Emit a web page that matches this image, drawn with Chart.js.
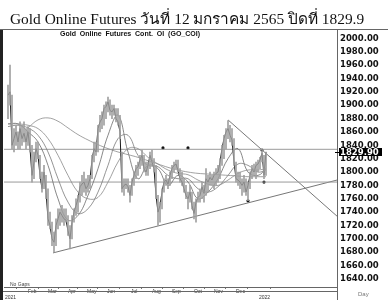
<!DOCTYPE html>
<html>
<head>
<meta charset="utf-8">
<script src="https://cdn.jsdelivr.net/npm/chart.js@4.4.1/dist/chart.umd.min.js"></script>
<style>
  html, body { margin: 0; padding: 0; background: #fff; }
  #wrap { position: relative; width: 388px; height: 300px; overflow: hidden; }
  #title {
    position: absolute; left: 10px; top: 6px;
    font: 15.4px "Liberation Serif", "Times New Roman", serif;
    color: #111; white-space: nowrap;
  }
  canvas { position: absolute; left: 0; top: 0; }
</style>
</head>
<body>
<div id="wrap">
  <canvas id="chart" width="388" height="300"></canvas>
  <div id="title">Gold Online Futures วันที่ 12 มกราคม 2565 ปิดที่ 1829.9</div>
</div>
<script>
// price axis ticks and time axis labels
const yTicks = [1640, 1660, 1680, 1700, 1720, 1740, 1760, 1780, 1800, 1820,
                1840, 1860, 1880, 1900, 1920, 1940, 1960, 1980, 2000]
const monthLabels = [['', '2021'], 'Feb', 'Mar', 'Apr', 'May', 'Jun', 'Jul',
                     'Aug', 'Sep', 'Oct', 'Nov', 'Dec', ['', '2022']]
const monthDays = [-3, 20, 40, 60, 79, 99, 123, 144, 164, 186, 206, 228, 251]

// daily bars, sampled every 2nd session (Jan 2021 -> 12 Jan 2022)
const highs = [1930, 1960, 1915, 1865, 1870, 1860, 1875, 1870, 1875, 1865,
               1868, 1865, 1840, 1830, 1845, 1845, 1825, 1800, 1810, 1795,
               1775, 1740, 1725, 1710, 1730, 1745, 1745, 1750, 1745, 1745,
               1735, 1720, 1735, 1745, 1760, 1765, 1785, 1795, 1800, 1790,
               1795, 1795, 1825, 1845, 1845, 1870, 1885, 1890, 1900, 1905,
               1912, 1908, 1900, 1900, 1895, 1895, 1885, 1830, 1790, 1790,
               1790, 1780, 1790, 1800, 1810, 1815, 1825, 1833, 1825, 1815,
               1815, 1830, 1833, 1820, 1810, 1765, 1755, 1775, 1790, 1795,
               1790, 1800, 1810, 1815, 1818, 1818, 1805, 1800, 1790, 1780,
               1770, 1780, 1770, 1755, 1760, 1770, 1775, 1785, 1780, 1805,
               1795, 1800, 1795, 1800, 1805, 1810, 1820, 1840, 1855, 1865,
               1877, 1870, 1865, 1850, 1815, 1800, 1800, 1790, 1795, 1790,
               1785, 1800, 1810, 1812, 1815, 1818, 1822, 1832, 1825, 1830]
const lows  = [1880, 1900, 1835, 1830, 1840, 1835, 1835, 1840, 1845, 1835,
               1840, 1830, 1785, 1790, 1815, 1820, 1790, 1770, 1775, 1760,
               1720, 1715, 1690, 1680, 1690, 1715, 1720, 1725, 1720, 1725,
               1705, 1685, 1700, 1725, 1735, 1740, 1755, 1765, 1770, 1765,
               1770, 1775, 1790, 1815, 1825, 1830, 1860, 1865, 1870, 1880,
               1890, 1885, 1880, 1885, 1875, 1870, 1850, 1770, 1765, 1775,
               1770, 1755, 1765, 1780, 1790, 1795, 1805, 1810, 1800, 1795,
               1795, 1805, 1810, 1800, 1760, 1720, 1725, 1745, 1770, 1780,
               1775, 1780, 1790, 1800, 1805, 1800, 1785, 1780, 1770, 1760,
               1745, 1755, 1745, 1730, 1725, 1755, 1755, 1760, 1755, 1765,
               1770, 1780, 1780, 1775, 1780, 1785, 1790, 1810, 1820, 1835,
               1850, 1845, 1840, 1810, 1785, 1780, 1775, 1765, 1770, 1765,
               1757, 1775, 1790, 1795, 1790, 1800, 1805, 1815, 1790, 1795]
const closes = [1915, 1920, 1840, 1850, 1860, 1845, 1865, 1850, 1858, 1845,
                1860, 1835, 1795, 1815, 1835, 1825, 1795, 1775, 1800, 1770,
                1730, 1720, 1700, 1695, 1720, 1730, 1740, 1735, 1730, 1728,
                1712, 1700, 1725, 1740, 1750, 1760, 1778, 1782, 1785, 1775,
                1780, 1790, 1818, 1835, 1830, 1865, 1875, 1880, 1895, 1898,
                1905, 1892, 1890, 1895, 1880, 1875, 1860, 1775, 1780, 1782,
                1778, 1765, 1785, 1795, 1805, 1808, 1818, 1825, 1805, 1800,
                1810, 1825, 1815, 1805, 1765, 1740, 1750, 1770, 1785, 1788,
                1782, 1795, 1805, 1810, 1812, 1802, 1790, 1785, 1775, 1765,
                1760, 1770, 1750, 1738, 1755, 1762, 1765, 1778, 1768, 1790,
                1785, 1792, 1788, 1795, 1798, 1800, 1815, 1835, 1850, 1860,
                1865, 1855, 1848, 1815, 1790, 1788, 1785, 1780, 1785, 1770,
                1780, 1795, 1805, 1800, 1810, 1812, 1818, 1828, 1795, 1829.9]

// moving averages read every 10 sessions
const maDays = [0, 10, 20, 30, 40, 50, 60, 70, 80, 90, 100, 110, 120, 130,
                140, 150, 160, 170, 180, 190, 200, 210, 220, 230, 240, 250, 258]
const maFast = [1872, 1872, 1860, 1845, 1810, 1760, 1728, 1735, 1765, 1805,
                1855, 1885, 1830, 1790, 1810, 1805, 1780, 1795, 1785, 1760,
                1770, 1790, 1820, 1835, 1800, 1795, 1805]
const maMid  = [1868, 1870, 1866, 1855, 1830, 1790, 1755, 1738, 1745, 1770,
                1810, 1850, 1855, 1825, 1810, 1808, 1795, 1790, 1790, 1775,
                1770, 1778, 1795, 1812, 1810, 1800, 1803]
const maSlow = [1872, 1872, 1870, 1865, 1850, 1825, 1795, 1770, 1760, 1762,
                1785, 1815, 1835, 1835, 1822, 1812, 1803, 1798, 1796, 1788,
                1782, 1780, 1788, 1798, 1803, 1803, 1805]
const maLong = [null, null, 1866, 1878, 1881, 1876, 1866, 1856, 1848, 1841,
                1835, 1830, 1826, 1822, 1817, 1812, 1807, 1803, 1800, 1798,
                1797, 1796, 1795, 1794, 1793, 1793, 1793]

// drawn studies
const lastClose = 1829.9
const resistLevel = 1834
const supportLevel = 1785
const supportLine = [[45, 1679], [329, 1788]]
const downLine = [[220, 1878], [329, 1734]]
const pivots = [[155, 1836], [180, 1836], [254, 1833], [240, 1757], [256, 1785]]

const dayMin = -4
const dayMax = 329

const toPts = (xs, ys) => xs.map((x, i) => ({ x: x, y: ys[i] }))
const barDays = highs.map((h, i) => i * 2)

function studyLine(points, color) {
  return {
    type: 'line',
    data: points.map(p => ({ x: p[0], y: p[1] })),
    borderColor: color,
    borderWidth: 1,
    pointRadius: 0,
    tension: 0
  }
}

function maLine(values, color) {
  return {
    type: 'line',
    data: toPts(maDays, values),
    borderColor: color,
    borderWidth: 0.8,
    pointRadius: 0,
    tension: 0.4,
    spanGaps: false
  }
}

const decorations = {
  id: 'decorations',
  afterDraw(chart) {
    const { ctx, chartArea: a, scales: { y } } = chart
    ctx.save()
    ctx.fillStyle = '#222'
    ctx.fillRect(0, 29, 3, 271)

    ctx.strokeStyle = '#666'
    ctx.lineWidth = 1
    ctx.beginPath()
    ctx.moveTo(0, 29.5)
    ctx.lineTo(388, 29.5)
    ctx.moveTo(a.right + 0.5, 29)
    ctx.lineTo(a.right + 0.5, 300)
    ctx.moveTo(3, 291.5)
    ctx.lineTo(a.right, 291.5)
    ctx.stroke()

    ctx.fillStyle = '#111'
    ctx.textBaseline = 'middle'
    ctx.font = 'bold 7px "Liberation Sans", Arial, sans-serif'
    ctx.fillText('Gold  Online  Futures  Cont.  OI  (GO_COI)', 60, 34.5)

    ctx.font = '5px "Liberation Sans", Arial, sans-serif'
    ctx.fillStyle = '#444'
    ctx.fillText('No Gaps', 10, 284.5)
    ctx.font = '6px "Liberation Sans", Arial, sans-serif'
    ctx.fillStyle = '#777'
    ctx.fillText('Day', 358, 294)

    const py = Math.round(y.getPixelForValue(lastClose))
    ctx.fillStyle = '#000'
    ctx.fillRect(a.right + 2, py - 4, 43, 8)
    ctx.fillRect(a.right - 2, py, 4, 1)
    ctx.fillStyle = '#fff'
    ctx.font = 'bold 8.5px "DejaVu Sans", sans-serif'
    ctx.fillText('1829.90', a.right + 3, py + 0.5)
    ctx.restore()
  }
}

new Chart(document.getElementById('chart'), {
  data: {
    datasets: [
      {
        type: 'bar',
        data: barDays.map((d, i) => ({ x: d, y: [lows[i], highs[i]] })),
        backgroundColor: '#a0a0a0',
        barThickness: 1,
        grouped: false
      },
      maLine(maLong, '#8a8a8a'),
      maLine(maSlow, '#8a8a8a'),
      maLine(maMid, '#7a7a7a'),
      maLine(maFast, '#6a6a6a'),
      {
        type: 'line',
        data: toPts(barDays, closes),
        borderColor: '#1a1a1a',
        borderWidth: 1,
        pointRadius: 0,
        tension: 0
      },
      studyLine([[dayMin, resistLevel], [dayMax, resistLevel]], '#9a9a9a'),
      studyLine([[dayMin, supportLevel], [dayMax, supportLevel]], '#9a9a9a'),
      studyLine(supportLine, '#777'),
      studyLine(downLine, '#777'),
      {
        type: 'scatter',
        data: pivots.map(p => ({ x: p[0], y: p[1] })),
        pointRadius: 1.6,
        pointBackgroundColor: '#111',
        pointBorderWidth: 0
      }
    ]
  },
  options: {
    responsive: false,
    animation: false,
    devicePixelRatio: 1,
    layout: { padding: { left: 4, top: 31, right: 0, bottom: 0 } },
    plugins: {
      legend: { display: false },
      title: { display: false },
      tooltip: { enabled: false }
    },
    scales: {
      x: {
        type: 'linear',
        min: dayMin,
        max: dayMax,
        offset: false,
        afterBuildTicks: scale => {
          scale.ticks = monthDays.map(v => ({ value: v }))
        },
        afterFit: scale => { scale.height = 13 },
        ticks: {
          autoSkip: false,
          maxRotation: 0,
          align: 'start',
          padding: 0,
          color: '#333',
          font: { family: 'Liberation Sans', size: 5, lineHeight: 1.1 },
          callback: (value, index) => monthLabels[index]
        },
        grid: { drawOnChartArea: false, tickLength: 2, color: '#777' },
        border: { display: true, color: '#666' }
      },
      y: {
        position: 'right',
        min: 1628,
        max: 2011,
        afterBuildTicks: scale => {
          scale.ticks = yTicks.map(v => ({ value: v }))
        },
        afterFit: scale => { scale.width = 51 },
        ticks: {
          padding: 3,
          color: '#111',
          font: { family: 'DejaVu Sans', size: 8.5, weight: 'bold' },
          callback: value => value.toFixed(2)
        },
        grid: { display: false, drawTicks: false },
        border: { display: true, color: '#666' }
      }
    }
  },
  plugins: [decorations]
})
</script>
</body>
</html>
